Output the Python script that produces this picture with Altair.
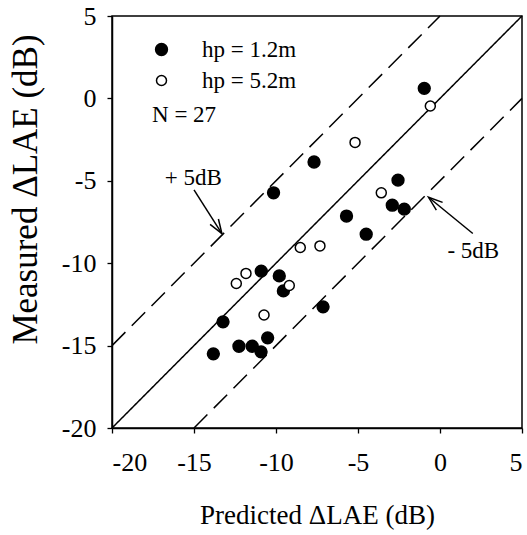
import math
import altair as alt
import pandas as pd

# ---- data ----
groups = ["hp = 1.2m", "hp = 5.2m"]

filled_x = [-0.96, -7.68, -2.56, -10.15, -2.91, -2.18, -5.70, -4.50, -10.90,
            -9.80, -9.55, -7.13, -13.23, -10.51, -12.26, -11.45, -10.91, -13.82]
filled_y = [0.61, -3.86, -4.96, -5.73, -6.48, -6.72, -7.14, -8.24, -10.48,
            -10.77, -11.68, -12.65, -13.56, -14.53, -15.04, -15.04, -15.38, -15.50]

open_x = [-0.59, -5.18, -3.58, -8.52, -7.32, -11.83, -12.42, -9.19, -10.73]
open_y = [-0.46, -2.67, -5.73, -9.05, -8.95, -10.62, -11.23, -11.35, -13.14]

# reference lines: 1:1 and +/- 5 dB
line_id = ["1:1", "1:1", "+5", "+5", "-5", "-5"]
line_style = ["solid", "solid", "dashed", "dashed", "dashed", "dashed"]
line_x = [-20, 5, -20, 0, -15, 5]
line_y = [-20, 5, -15, 5, -20, 0]

# annotations
ann_text = ["+ 5dB", "- 5dB"]
ann_x = [-15.04, 2.03]
ann_y = [-4.84, -9.27]

arrow_x1 = [-15.0, 2.0]
arrow_y1 = [-5.55, -8.2]
arrow_x2 = [-13.3, -0.7]
arrow_y2 = [-8.2, -6.0]

n_text = ["N = 27"]
n_x = [-17.56]
n_y = [-1.01]

x_ticks = [-20, -15, -10, -5, 0, 5]
y_ticks = [-20, -15, -10, -5, 0, 5]

FONT = "Liberation Serif"
LABEL_EXPR = "datum.value < 0 ? '-' + abs(datum.value) : '' + datum.value"

# ---- tables ----
pts = pd.DataFrame({
    "pred": filled_x + open_x,
    "meas": filled_y + open_y,
    "group": [groups[0]] * len(filled_x) + [groups[1]] * len(open_x),
})
lines = pd.DataFrame({"id": line_id, "style": line_style, "x": line_x, "y": line_y})
ann = pd.DataFrame({"t": ann_text, "x": ann_x, "y": ann_y})
arrows = pd.DataFrame({"x1": arrow_x1, "y1": arrow_y1, "x2": arrow_x2, "y2": arrow_y2})
arrows["angle"] = [
    (math.degrees(math.atan2(x2 - x1, y2 - y1)) + 360) % 360
    for x1, y1, x2, y2 in zip(arrow_x1, arrow_y1, arrow_x2, arrow_y2)
]
ntab = pd.DataFrame({"t": n_text, "x": n_x, "y": n_y})

xs = alt.Scale(domain=[-20, 5], nice=False, zero=False)
ys = alt.Scale(domain=[-20, 5], nice=False, zero=False)

x_axis = alt.Axis(
    values=x_ticks, title="Predicted ΔLAE (dB)", grid=False, labelExpr=LABEL_EXPR,
    labelFont=FONT, labelFontSize=26, labelColor="black", labelPadding=16,
    tickSize=5, tickColor="black", tickWidth=1.3,
    domainColor="black", domainWidth=1.5,
    titleFont=FONT, titleFontSize=27, titleFontWeight="normal", titleColor="black",
    titleBaseline="alphabetic", titleY=95,
)
y_axis = alt.Axis(
    values=y_ticks, title="Measured ΔLAE (dB)", grid=False, labelExpr=LABEL_EXPR,
    labelFont=FONT, labelFontSize=26, labelColor="black", labelPadding=11,
    tickSize=5, tickColor="black", tickWidth=1.3,
    domainColor="black", domainWidth=1.5,
    titleFont=FONT, titleFontSize=35, titleFontWeight="normal", titleColor="black",
    titleAngle=-90, titleAlign="center", titleBaseline="middle",
    titleX=-87, titleY=173,
)

base_lines = alt.Chart(lines).mark_line(color="black", strokeWidth=1.5).encode(
    x=alt.X("x:Q", scale=xs, axis=x_axis),
    y=alt.Y("y:Q", scale=ys, axis=y_axis),
    detail="id:N",
    strokeDash=alt.StrokeDash(
        "style:N",
        scale=alt.Scale(domain=["solid", "dashed"], range=[[1, 0], [19, 9]]),
        legend=None,
    ),
)

legend = alt.Legend(
    title=None, orient="none", legendX=38, legendY=22,
    labelFont=FONT, labelFontSize=23, labelColor="black", labelOffset=29,
    rowPadding=7, padding=0, symbolType="circle",
    symbolStrokeColor="black", symbolStrokeWidth=1.5, symbolOpacity=1,
)

points = alt.Chart(pts).mark_point(
    filled=True, shape="circle", strokeWidth=1.5, opacity=1
).encode(
    x=alt.X("pred:Q", scale=xs),
    y=alt.Y("meas:Q", scale=ys),
    fill=alt.Fill("group:N", scale=alt.Scale(domain=groups, range=["black", "white"]), legend=legend),
    stroke=alt.Stroke("group:N", scale=alt.Scale(domain=groups, range=["black", "black"]), legend=legend),
    size=alt.Size("group:N", scale=alt.Scale(domain=groups, range=[140, 100]), legend=legend),
)

ann_text_layer = alt.Chart(ann).mark_text(
    font=FONT, fontSize=23, color="black", align="center", baseline="middle"
).encode(x=alt.X("x:Q", scale=xs), y=alt.Y("y:Q", scale=ys), text="t:N")

n_layer = alt.Chart(ntab).mark_text(
    font=FONT, fontSize=23, color="black", align="left", baseline="middle"
).encode(x=alt.X("x:Q", scale=xs), y=alt.Y("y:Q", scale=ys), text="t:N")

shafts = alt.Chart(arrows).mark_rule(color="black", strokeWidth=1.5).encode(
    x=alt.X("x1:Q", scale=xs), y=alt.Y("y1:Q", scale=ys),
    x2="x2:Q", y2="y2:Q",
)

heads = alt.Chart(arrows).mark_point(
    shape="M -0.35 1 L 0 0 L 0.35 1", filled=False, stroke="black",
    strokeWidth=1.5, opacity=1, size=800,
).encode(
    x=alt.X("x2:Q", scale=xs), y=alt.Y("y2:Q", scale=ys),
    angle=alt.Angle("angle:Q", scale=None),
)

chart = alt.layer(base_lines, shafts, heads, points, ann_text_layer, n_layer).properties(
    width=410, height=412,
    autosize=alt.AutoSizeParams(type="none"),
    padding={"left": 112, "top": 16, "right": 5, "bottom": 107},
    background="white",
).configure_view(stroke="black", strokeWidth=1.5).resolve_scale(
    strokeDash="independent"
)

chart.save("out.html", embed_options={"renderer": "svg", "actions": False})
